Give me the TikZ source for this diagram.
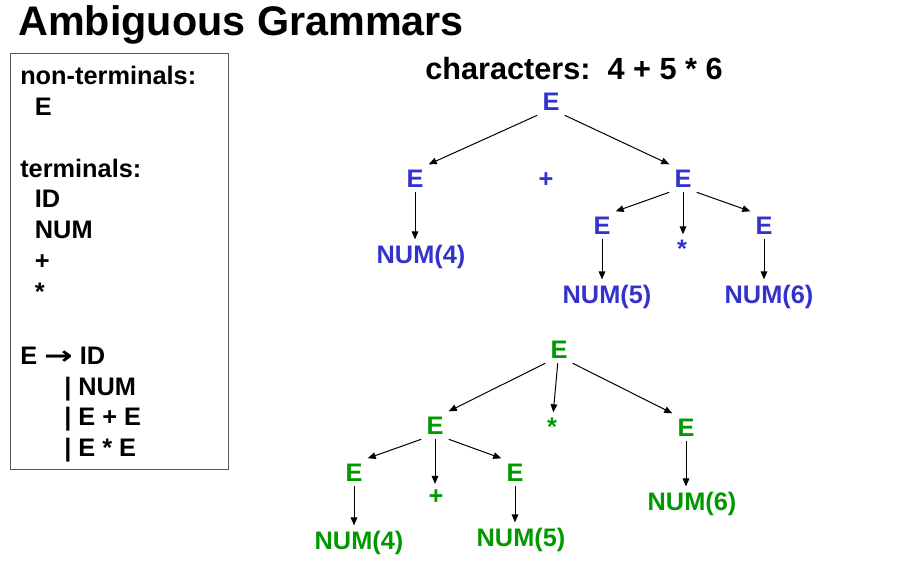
\documentclass[tikz,border=0pt]{standalone}
\usepackage{graphicx}
\usepackage{fontspec}
\setmainfont{Liberation Sans}
\newfontfamily\arrowfont{DejaVu Sans}
\usetikzlibrary{arrows.meta}
\definecolor{treeblue}{RGB}{51,51,204}
\definecolor{treegreen}{RGB}{0,153,0}

\begin{document}
\begin{tikzpicture}[
    x=0.75pt, y=-0.75pt,
    sym/.style={inner sep=3.75pt, anchor=base, font=\fontsize{19}{23}\bfseries\selectfont},
    bsym/.style={sym, text=treeblue},
    gsym/.style={sym, text=treegreen},
    tedge/.style={->, line width=0.75pt},
    >={Triangle[length=6pt,width=5pt]}
  ]
    \useasboundingbox (0,0) rectangle (915,562);

    \node[anchor=base west, inner sep=0pt, font=\fontsize{31}{36}\bfseries\selectfont] (title) at (18,35) {Ambiguous Grammars};

    % grammar box
    \node[draw=black!65, line width=0.75pt, anchor=north west, minimum width=163.5pt,
          minimum height=312pt, inner sep=0pt] (frame) at (10,53) {};
    \node[anchor=north west, inner sep=0pt, align=left,
          font=\fontsize{19}{23.1}\bfseries\selectfont] (gram) at (20,66) {%
      non-terminals:\\
      \hspace*{11pt}E\\[23.1pt]
      terminals:\\
      \hspace*{11pt}ID\\
      \hspace*{11pt}NUM\\
      \hspace*{11pt}+\\
      \hspace*{11pt}*\\[25pt]
      E {\arrowfont\scalebox{1.35}[1]{→}} ID\\
      \hspace*{33pt}| NUM\\
      \hspace*{33pt}| E + E\\
      \hspace*{33pt}| E * E};

    \node[anchor=base west, inner sep=0pt, font=\fontsize{23}{28}\bfseries\selectfont] (chars) at (425,79) {characters:\ \ 4 + 5 * 6};

    % first tree: 4 + (5 * 6)
    \node[bsym] (bT)  at (551,110) {E};
    \node[bsym] (bL)  at (415,187) {E};
    \node[bsym] (bP)  at (546,187) {+};
    \node[bsym] (bR)  at (683,187) {E};
    \node[bsym] (bRL) at (602,234) {E};
    \node[bsym] (bRS) at (682,257) {*};
    \node[bsym] (bRR) at (764,234) {E};
    \node[bsym] (bN4) at (421,263) {NUM(4)};
    \node[bsym] (bN5) at (607,303) {NUM(5)};
    \node[bsym] (bN6) at (769,303) {NUM(6)};

    \draw[tedge] (bT.south west) -- (bL.north east);
    \draw[tedge] (bT.south east) -- (bR.north west);
    \draw[tedge] (bL) -- (bL |- bN4.north);
    \draw[tedge] (bR.south west) -- (bRL.north east);
    \draw[tedge] (bR) -- (bR |- bRS.north);
    \draw[tedge] (bR.south east) -- (bRR.north west);
    \draw[tedge] (bRL) -- (bRL |- bN5.north);
    \draw[tedge] (bRR) -- (bRR |- bN6.north);

    % second tree: (4 + 5) * 6
    \node[gsym] (gT)  at (559,358) {E};
    \node[gsym] (gL)  at (435,434) {E};
    \node[gsym] (gS)  at (552,435) {*};
    \node[gsym] (gR)  at (686,436) {E};
    \node[gsym] (gLL) at (354,481) {E};
    \node[gsym] (gLP) at (436,504) {+};
    \node[gsym] (gLR) at (515,481) {E};
    \node[gsym] (gN4) at (359,549) {NUM(4)};
    \node[gsym] (gN5) at (521,546) {NUM(5)};
    \node[gsym] (gN6) at (692,510) {NUM(6)};

    \draw[tedge] (gT.south west) -- (gL.north east);
    \draw[tedge] (gT) -- (gS);
    \draw[tedge] (gT.south east) -- (gR.north west);
    \draw[tedge] (gL.south west) -- (gLL.north east);
    \draw[tedge] (gL) -- (gL |- gLP.north);
    \draw[tedge] (gL.south east) -- (gLR.north west);
    \draw[tedge] (gLL) -- (gLL |- gN4.north);
    \draw[tedge] (gLR) -- (gLR |- gN5.north);
    \draw[tedge] (gR) -- (gR |- gN6.north);
\end{tikzpicture}
\end{document}
